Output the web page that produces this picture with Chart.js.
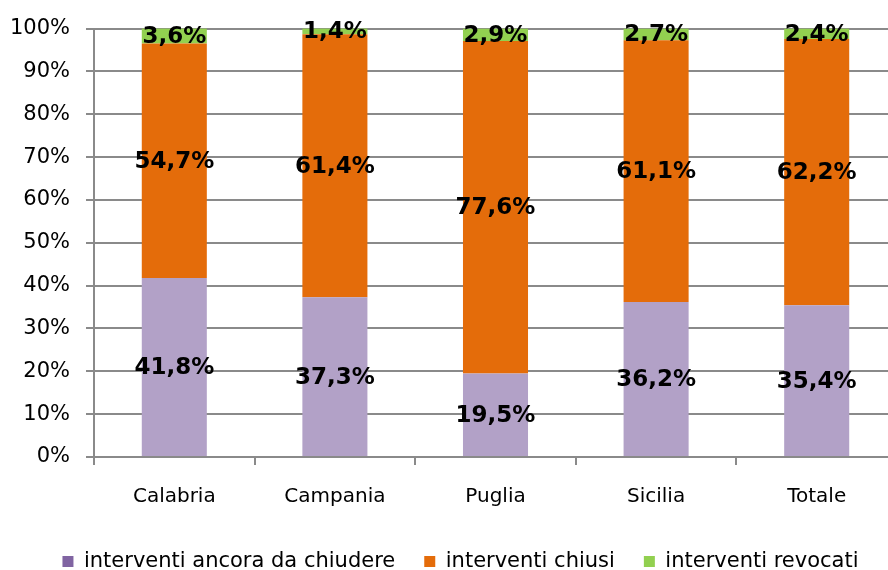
<!DOCTYPE html>
<html>
<head>
<meta charset="utf-8">
<script src="https://cdn.jsdelivr.net/npm/chart.js@4/dist/chart.umd.min.js"></script>
<style>
  html, body { margin: 0; padding: 0; background: #fff; overflow: hidden; }
  #wrap { width: 898px; height: 570px; }
</style>
</head>
<body>
<div id="wrap"><canvas id="c"></canvas></div>
<script>
// categories and series (percent shares)
var regioni = ['Calabria', 'Campania', 'Puglia', 'Sicilia', 'Totale'];
var ancoraDaChiudere = [41.8, 37.3, 19.5, 36.2, 35.4];
var chiusi = [54.7, 61.4, 77.6, 61.1, 62.2];
var revocati = [3.6, 1.4, 2.9, 2.7, 2.4];
var yTicks = ['0%', '10%', '20%', '30%', '40%', '50%', '60%', '70%', '80%', '90%', '100%'];

var FONT = '"DejaVu Sans", Verdana, sans-serif';
var GRID = '#8a8a8a';

function fmt(v) {
    return v.toFixed(1).replace('.', ',') + '%';
}

// draws the value in the middle of each segment
var segLabels = {
    id: 'segLabels',
    afterDatasetsDraw: function(chart) {
        var ctx = chart.ctx;
        ctx.save();
        ctx.font = 'bold 23px ' + FONT;
        ctx.fillStyle = '#000';
        ctx.textAlign = 'center';
        ctx.textBaseline = 'middle';
        chart.data.datasets.forEach(function(ds, i) {
            chart.getDatasetMeta(i).data.forEach(function(bar, j) {
                var top = Math.max(bar.y, chart.chartArea.top);
                ctx.fillText(fmt(ds.data[j]), bar.x, (top + bar.base) / 2 + 1);
            });
        });
        ctx.restore();
    }
};

// nudge the legend to where the original has it
var legendShift = {
    id: 'legendShift',
    afterLayout: function(chart) {
        var lg = chart.legend;
        lg.left += 12; lg.right += 12;
        lg.top += 12; lg.bottom += 12;
    }
};

new Chart(document.getElementById('c'), {
    type: 'bar',
    data: {
        labels: regioni,
        datasets: [
            { label: 'interventi ancora da chiudere', data: ancoraDaChiudere, backgroundColor: '#b2a1c7', legendColor: '#8064a2' },
            { label: 'interventi chiusi', data: chiusi, backgroundColor: '#e46c0a' },
            { label: 'interventi revocati', data: revocati, backgroundColor: '#92d050' }
        ]
    },
    options: {
        responsive: true,
        maintainAspectRatio: false,
        animation: false,
        datasets: { bar: { barPercentage: 1, categoryPercentage: 0.405 } },
        layout: { padding: { left: 0, right: 1, top: 27, bottom: 0 } },
        plugins: {
            tooltip: { enabled: false },
            legend: {
                position: 'bottom',
                labels: {
                    font: { family: FONT, size: 21 },
                    color: '#000',
                    boxWidth: 11,
                    boxHeight: 11,
                    padding: 29,
                    generateLabels: function(chart) {
                        return chart.data.datasets.map(function(ds, i) {
                            return {
                                text: ds.label,
                                fillStyle: ds.legendColor || ds.backgroundColor,
                                strokeStyle: ds.legendColor || ds.backgroundColor,
                                lineWidth: 0,
                                datasetIndex: i
                            };
                        });
                    }
                }
            }
        },
        scales: {
            x: {
                stacked: true,
                grid: { display: true, drawOnChartArea: false, drawTicks: true, tickLength: 8, color: GRID, lineWidth: 2, offset: true },
                border: { color: GRID, width: 2 },
                afterFit: function(scale) { scale.height = 53; },
                ticks: { color: '#000', font: { family: FONT, size: 20 }, padding: 20 }
            },
            y: {
                stacked: true,
                min: 0,
                max: 100,
                grid: { color: GRID, lineWidth: 2, tickLength: 8 },
                border: { color: GRID, width: 2 },
                afterFit: function(scale) { scale.width = 94; },
                ticks: {
                    stepSize: 10,
                    color: '#000',
                    font: { family: FONT, size: 21 },
                    padding: 16,
                    callback: function(v) { return yTicks[Math.round(v / 10)]; }
                }
            }
        }
    },
    plugins: [segLabels, legendShift]
});
</script>
</body>
</html>
